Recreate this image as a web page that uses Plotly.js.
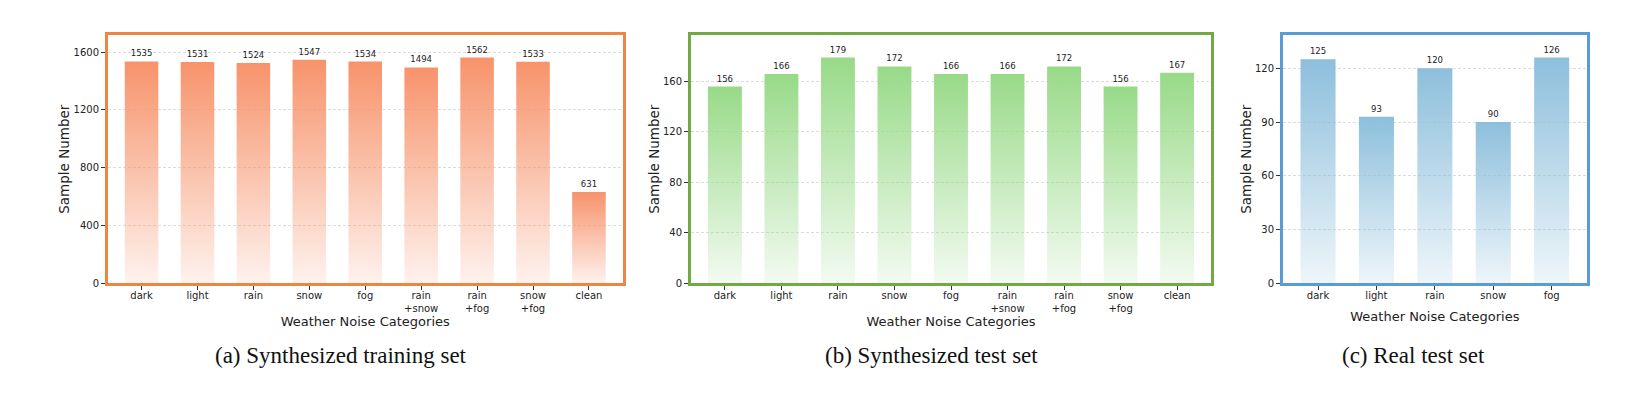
<!DOCTYPE html>
<html>
<head>
<meta charset="utf-8">
<script src="https://cdn.plot.ly/plotly-3.0.1.min.js"></script>
<style>
  html, body { margin: 0; padding: 0; background: #fff; }
  #chart { width: 1645px; height: 399px; }
</style>
</head>
<body>
<svg width="0" height="0" style="position:absolute">
  <defs>
    <linearGradient id="gradA" x1="0" y1="0" x2="0" y2="1">
      <stop offset="0" stop-color="#F7936B" stop-opacity="1"/>
      <stop offset="1" stop-color="#F7936B" stop-opacity="0.12"/>
    </linearGradient>
    <linearGradient id="gradB" x1="0" y1="0" x2="0" y2="1">
      <stop offset="0" stop-color="#98DA88" stop-opacity="1"/>
      <stop offset="1" stop-color="#98DA88" stop-opacity="0.12"/>
    </linearGradient>
    <linearGradient id="gradC" x1="0" y1="0" x2="0" y2="1">
      <stop offset="0" stop-color="#8DBFDC" stop-opacity="1"/>
      <stop offset="1" stop-color="#8DBFDC" stop-opacity="0.15"/>
    </linearGradient>
  </defs>
</svg>
<div id="chart"></div>
<script>
// ---- data ----
const catsSynth = ["dark", "light", "rain", "snow", "fog", "rain<br>+snow", "rain<br>+fog", "snow<br>+fog", "clean"];
const trainValues = [1535, 1531, 1524, 1547, 1534, 1494, 1562, 1533, 631];
const synthTestValues = [156, 166, 179, 172, 166, 166, 172, 156, 167];
const catsReal = ["dark", "light", "rain", "snow", "fog"];
const realTestValues = [125, 93, 120, 90, 126];
const yTickStep = [400, 40, 30];
const captions = ["(a) Synthesized training set", "(b) Synthesized test set", "(c) Real test set"];
const xTitle = "Weather Noise Categories";
const yTitle = "Sample Number";

// ---- styles ----
const W = 1645, H = 399;
const frameColors = ["#EC8642", "#72A944", "#5B9BD5"];
const barBase = ["#F7936B", "#98DA88", "#8DBFDC"];
const gradIds = ["gradA", "gradB", "gradC"];
const px = v => v / W;
const py = v => 1 - v / H;
const xDomains = [[px(108), px(622.5)], [px(691), px(1211)], [px(1283), px(1586.7)]];
const yDomain = [py(283.3), py(35)];
const captionX = [341, 931, 1413];
const xTitleStandoff = [0, 0, 13];
const tickFont = { family: "DejaVu Sans, sans-serif", size: 10, color: "#222" };

const series = [
  { cats: catsSynth, vals: trainValues },
  { cats: catsSynth, vals: synthTestValues },
  { cats: catsReal, vals: realTestValues }
];

const traces = [];
const layout = {
  width: W, height: H,
  margin: { l: 0, r: 0, t: 0, b: 0 },
  paper_bgcolor: "#fff", plot_bgcolor: "#fff",
  showlegend: false,
  font: { family: "DejaVu Sans, sans-serif", color: "#222" },
  annotations: []
};

series.forEach((s, i) => {
  const n = i === 0 ? "" : String(i + 1);
  traces.push({
    type: "bar",
    x: s.cats.map((c, k) => k),
    y: s.vals,
    text: s.vals.map(String),
    textposition: "outside",
    cliponaxis: false,
    textfont: { family: "DejaVu Sans, sans-serif", size: 8.5, color: "#222" },
    width: 0.6,
    marker: { color: barBase[i], line: { width: 0 } },
    xaxis: "x" + n, yaxis: "y" + n,
    hoverinfo: "skip"
  });
  const maxV = Math.max(...s.vals);
  layout["xaxis" + n] = {
    domain: xDomains[i], anchor: "y" + n,
    range: [-0.6, s.cats.length - 0.4],
    tickmode: "array",
    tickvals: s.cats.map((c, k) => k),
    ticktext: s.cats,
    ticks: "outside", ticklen: 3.5, tickwidth: 1, tickcolor: "#333",
    ticklabelstandoff: -3,
    tickfont: tickFont,
    showline: true, mirror: true, linecolor: frameColors[i], linewidth: 3,
    showgrid: false, zeroline: false, fixedrange: true,
    title: { text: xTitle, font: { family: "DejaVu Sans, sans-serif", size: 13, color: "#222" }, standoff: xTitleStandoff[i] }
  };
  layout["yaxis" + n] = {
    domain: yDomain, anchor: "x" + n,
    range: [0, maxV * 1.1],
    dtick: yTickStep[i], tick0: 0,
    ticks: "outside", ticklen: 4, tickwidth: 1, tickcolor: "#333",
    tickfont: tickFont,
    showline: true, mirror: true, linecolor: frameColors[i], linewidth: 3,
    showgrid: true, gridcolor: "#d3d3d3", gridwidth: 0.8, griddash: "3px,2px",
    zeroline: false, fixedrange: true,
    title: { text: yTitle, font: { family: "DejaVu Sans, sans-serif", size: 13.5, color: "#222" }, standoff: 1 }
  };
  layout.annotations.push({
    xref: "paper", yref: "paper",
    x: px(captionX[i]), y: py(355),
    xanchor: "center", yanchor: "middle",
    text: captions[i], showarrow: false,
    font: { family: "Liberation Serif, Times New Roman, serif", size: 23, color: "#111" }
  });
});

function applyGradients(gd) {
  const subplots = ["xy", "x2y2", "x3y3"];
  subplots.forEach((sp, i) => {
    const g = gd.querySelector(".cartesianlayer .subplot." + sp);
    if (!g) return;
    g.querySelectorAll(".barlayer .point path").forEach(p => {
      p.style.fill = "url(#" + gradIds[i] + ")";
      p.style.fillOpacity = "1";
    });
  });
}

Plotly.newPlot("chart", traces, layout, { staticPlot: true, displayModeBar: false })
  .then(gd => applyGradients(gd));
</script>
</body>
</html>
